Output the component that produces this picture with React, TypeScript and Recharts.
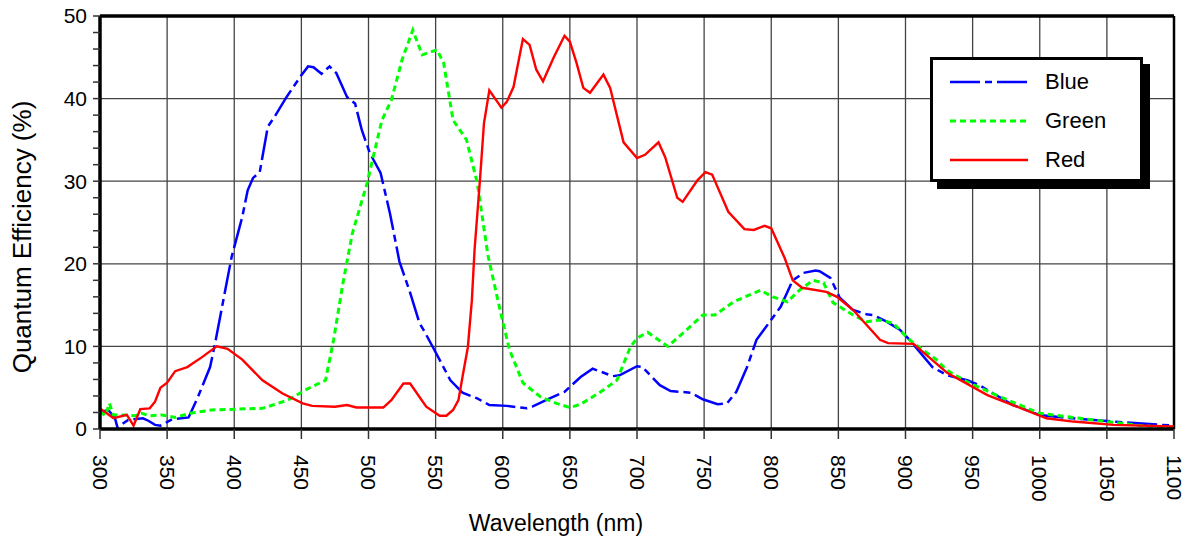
import React from "react";
import { LineChart, Line, XAxis, YAxis, CartesianGrid, ReferenceLine } from "recharts";

const FONT = "'Liberation Sans', Arial, sans-serif";

const xTicks = [300, 350, 400, 450, 500, 550, 600, 650, 700, 750, 800, 850, 900, 950, 1000, 1050, 1100];
const yMajor = [0, 10, 20, 30, 40, 50];
const yMinor = [0, 2, 4, 6, 8, 10, 12, 14, 16, 18, 20, 22, 24, 26, 28, 30, 32, 34, 36, 38, 40, 42, 44, 46, 48, 50];

const blueWl = [300, 306, 311, 313, 321, 332, 336, 341, 345, 354, 366, 373, 382, 386, 398, 406, 410, 414, 419, 425, 430, 439, 449, 455, 459, 465, 471, 476, 484, 490, 495, 501, 509, 516, 523, 531, 538, 541, 548, 561, 570, 581, 590, 603, 618, 622, 635, 646, 658, 667, 682, 687, 700, 704, 717, 725, 740, 749, 760, 767, 774, 782, 789, 799, 807, 816, 824, 833, 836, 844, 851, 861, 871, 876, 886, 896, 903, 920, 931, 946, 955, 980, 1000, 1030, 1055, 1100];
const blueQe = [2.0, 2.3, 1.4, 0.2, 1.1, 1.3, 1.0, 0.5, 0.4, 1.2, 1.4, 3.9, 7.5, 10.6, 20.8, 25.7, 28.9, 30.4, 31.1, 36.6, 37.8, 40.2, 42.6, 43.9, 43.8, 43.0, 43.9, 43.1, 40.2, 39.4, 36.2, 33.4, 31.0, 26.1, 20.3, 16.5, 12.8, 12.0, 9.9, 5.9, 4.4, 3.7, 2.9, 2.8, 2.5, 2.7, 3.7, 4.5, 6.3, 7.3, 6.4, 6.5, 7.6, 7.5, 5.3, 4.6, 4.4, 3.6, 3.0, 3.1, 4.5, 7.5, 10.8, 13.0, 14.8, 18.0, 18.9, 19.2, 19.1, 18.3, 15.9, 14.4, 13.9, 13.8, 13.0, 12.0, 10.8, 7.5, 6.5, 5.9, 5.3, 2.9, 1.7, 1.2, 0.9, 0.4];

const greenWl = [300, 304, 307, 310, 319, 326, 331, 337, 346, 356, 367, 383, 401, 421, 440, 455, 468, 474, 481, 488, 499, 503, 510, 517, 525, 533, 540, 551, 556, 563, 573, 581, 589, 598, 605, 615, 628, 640, 650, 658, 672, 685, 695, 700, 708, 723, 737, 749, 758, 772, 792, 801, 812, 821, 831, 839, 846, 861, 871, 881, 891, 901, 906, 923, 931, 946, 976, 1000, 1030, 1070, 1100];
const greenQe = [2.1, 1.6, 3.1, 1.7, 1.7, 1.6, 1.9, 1.6, 1.7, 1.4, 1.9, 2.3, 2.4, 2.5, 3.5, 4.9, 5.9, 10.8, 17.7, 23.7, 29.8, 32.6, 37.4, 39.8, 44.7, 48.3, 45.3, 45.9, 44.3, 37.4, 35.0, 29.8, 21.0, 14.4, 9.6, 5.6, 3.9, 3.1, 2.6, 3.0, 4.4, 5.9, 9.9, 11.0, 11.7, 10.0, 12.0, 13.8, 13.8, 15.4, 16.8, 16.0, 15.4, 16.8, 18.0, 17.7, 15.3, 13.8, 13.0, 13.2, 12.8, 11.1, 10.4, 8.4, 7.1, 5.7, 3.5, 1.9, 1.3, 0.5, 0.1];

const redWl = [300, 310, 320, 325, 330, 337, 341, 345, 350, 356, 365, 376, 387, 395, 406, 421, 436, 451, 458, 475, 484, 491, 511, 517, 526, 531, 543, 553, 558, 563, 567, 570, 574, 577, 579, 583, 586, 590, 599, 603, 608, 615, 620, 625, 630, 638, 646, 650, 655, 660, 665, 675, 680, 690, 700, 706, 716, 721, 730, 734, 745, 751, 756, 768, 780, 787, 795, 800, 810, 816, 823, 841, 849, 861, 881, 887, 906, 931, 961, 980, 1005, 1025, 1055, 1100];
const redQe = [2.5, 1.3, 1.7, 0.4, 2.4, 2.5, 3.3, 5.0, 5.6, 7.0, 7.5, 8.7, 10.0, 9.7, 8.4, 5.9, 4.3, 3.1, 2.8, 2.7, 2.9, 2.6, 2.6, 3.5, 5.5, 5.5, 2.7, 1.6, 1.6, 2.3, 3.5, 6.3, 9.9, 15.6, 21.7, 30.1, 37.0, 41.0, 38.9, 39.6, 41.4, 47.2, 46.5, 43.5, 42.1, 45.0, 47.6, 46.9, 44.3, 41.3, 40.7, 42.9, 41.3, 34.7, 32.8, 33.2, 34.7, 32.9, 28.0, 27.5, 30.1, 31.1, 30.8, 26.3, 24.2, 24.1, 24.6, 24.3, 20.7, 18.0, 17.1, 16.6, 16.0, 14.4, 10.8, 10.4, 10.3, 6.8, 4.1, 2.9, 1.3, 0.9, 0.5, 0.3];

const toRows = (wl: number[], qe: number[]) => wl.map((w, i) => ({ wl: w, qe: qe[i] }));

const SERIES = [
  { name: "Blue", color: "#0000FF", dash: "30 5 7 5", width: 2.5, rows: toRows(blueWl, blueQe) },
  { name: "Green", color: "#00FF00", dash: "6 4", width: 3, rows: toRows(greenWl, greenQe) },
  { name: "Red", color: "#FF0000", dash: undefined as string | undefined, width: 2.4, rows: toRows(redWl, redQe) },
];

const XTick = ({ x, y, payload }: any) => (
  <text
    transform={`translate(${x},${y + 14}) rotate(90)`}
    dy="0.35em"
    textAnchor="start"
    fontSize={21}
    fontFamily={FONT}
    fill="#000"
  >
    {payload.value}
  </text>
);

const YTick = ({ x, y, payload }: any) =>
  payload.value % 10 === 0 ? (
    <text x={x - 4} y={y} dy="0.35em" textAnchor="end" fontSize={21} fontFamily={FONT} fill="#000">
      {payload.value}
    </text>
  ) : (
    <g />
  );

// legend box with the offset black shadow, sitting over the top right of the plot
const LegendBox = () => (
  <div style={{ position: "absolute", left: 930, top: 57, width: 220, height: 132 }}>
    <div style={{ position: "absolute", left: 7, top: 7, width: 213, height: 125, background: "#000" }} />
    <div
      style={{
        position: "absolute", left: 0, top: 0, width: 207, height: 119,
        border: "3px solid #000", background: "#fff",
      }}
    >
      {SERIES.map((s, i) => (
        <div key={s.name} style={{ position: "absolute", left: 17, top: 7 + i * 39, height: 30, display: "flex", alignItems: "center" }}>
          <svg width={78} height={6}>
            <line x1={0} y1={3} x2={78} y2={3} stroke={s.color} strokeWidth={s.width} strokeDasharray={s.dash} />
          </svg>
          <span style={{ marginLeft: 17, fontFamily: FONT, fontSize: 22, color: "#000" }}>{s.name}</span>
        </div>
      ))}
    </div>
  </div>
);

export default function App() {
  return (
    <div style={{ position: "absolute", left: 0, top: 0, width: 1190, height: 545, background: "#fff" }}>
      <LineChart width={1190} height={545} margin={{ top: 16, right: 16, left: 0, bottom: 0 }}>
        <CartesianGrid
          stroke="#444"
          strokeWidth={1.3}
          horizontalValues={yMajor}
          verticalValues={xTicks}
        />
        <XAxis
          dataKey="wl"
          type="number"
          domain={[300, 1100]}
          ticks={xTicks}
          interval={0}
          height={116}
          tick={<XTick />}
          tickSize={10}
          tickLine={{ stroke: "#333", strokeWidth: 1.5 }}
          axisLine={{ stroke: "#000", strokeWidth: 3.5 }}
          allowDuplicatedCategory={false}
          label={{
            content: () => (
              <text x={556} y={531} textAnchor="middle" fontSize={23} fontFamily={FONT} fill="#000">
                Wavelength (nm)
              </text>
            ),
          }}
        />
        <YAxis
          type="number"
          domain={[0, 50]}
          ticks={yMinor}
          interval={0}
          width={100}
          tick={<YTick />}
          tickSize={7}
          tickLine={{ stroke: "#333", strokeWidth: 1.5 }}
          axisLine={{ stroke: "#000", strokeWidth: 3.5 }}
          label={{
            content: () => (
              <text
                transform="translate(22,237) rotate(-90)"
                textAnchor="middle"
                dy="0.35em"
                fontSize={26}
                fontFamily={FONT}
                fill="#000"
              >
                Quantum Efficiency (%)
              </text>
            ),
          }}
        />
        <ReferenceLine y={50} stroke="#000" strokeWidth={3.5} />
        <ReferenceLine x={1100} stroke="#000" strokeWidth={2.5} />
        {SERIES.map((s) => (
          <Line
            key={s.name}
            data={s.rows}
            dataKey="qe"
            name={s.name}
            type="linear"
            stroke={s.color}
            strokeWidth={s.width}
            strokeDasharray={s.dash}
            dot={false}
            activeDot={false}
            isAnimationActive={false}
          />
        ))}
      </LineChart>
      <LegendBox />
    </div>
  );
}
